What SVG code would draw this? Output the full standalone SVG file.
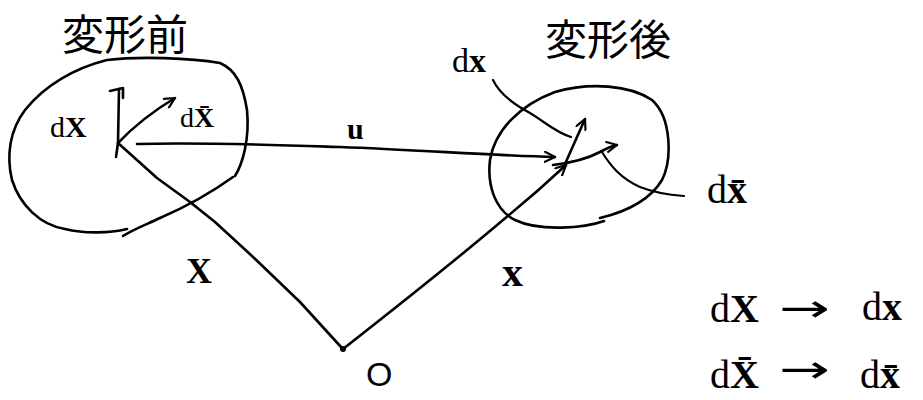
<svg xmlns="http://www.w3.org/2000/svg" width="923" height="400" viewBox="0 0 923 400">
<defs>
<marker id="ah" viewBox="0 0 12 12" refX="11" refY="6" markerWidth="12" markerHeight="12" markerUnits="userSpaceOnUse" orient="auto">
<path d="M1,1 L11,6 L1,11" fill="none" stroke="#000" stroke-width="2.2" stroke-linecap="round" stroke-linejoin="round"/>
</marker>
<style>
.ln{fill:none;stroke:#000;stroke-width:2.6;stroke-linecap:round;stroke-linejoin:round}
.thin{fill:none;stroke:#000;stroke-width:2.2;stroke-linecap:round}
.jp{font-family:"Noto Sans CJK JP","Noto Sans CJK SC",sans-serif;font-size:42px;fill:#000}
.m{font-family:"Liberation Serif","DejaVu Serif",serif;fill:#000}
.b{font-weight:bold}
.o{font-family:"Liberation Sans",sans-serif;fill:#000}
.arr{font-family:"DejaVu Sans",sans-serif;font-size:38px;fill:#000}
</style>
</defs>
<rect width="923" height="400" fill="#fff"/>

<g id="before">
<path class="ln" d="M235,176 C242,165 250,140 247,110 C243,85 236,70 220,63 C190,58 140,56 107,60 C75,68 45,85 25,110 C10,130 6,155 12,180 C20,205 40,225 65,229 C85,234 110,233 127,229"/>
<path class="ln" d="M233,177 C215,190 190,205 160,218 C145,225 132,230 123,236"/>
<text class="jp" x="62" y="50">変形前</text>
</g>

<g id="after">
<path class="ln" d="M604,221 C585,228 540,232 515,220 C495,210 487,185 490,160 C495,130 520,105 555,92 C590,82 630,85 652,100 C672,118 672,160 662,180 C650,200 625,212 600,218"/>
<text class="jp" x="545" y="55">変形後</text>
</g>

<g id="origin">
<circle cx="343" cy="349" r="3" fill="#000"/>
<text class="o" x="366" y="386" font-size="34">O</text>
</g>

<g id="connectors">
<path class="ln" d="M137,144 C200,142 280,145 340,147 C420,150 500,156 555,157" marker-end="url(#ah)"/>
<path class="ln" d="M118,143 L157,178 L190,202 L215,222 L252,256 L300,302 L341,347"/>
<path class="ln" d="M343,349 C380,320 450,265 503,220 C530,198 550,180 566,165" marker-end="url(#ah)"/>
<path class="ln" d="M116,157 L118,143 L119,89"/>
<path class="ln" d="M110,91 L123,88 L123,98"/>
<path class="ln" d="M118,143 C135,125 155,110 175,98" marker-end="url(#ah)"/>
<path class="ln" d="M565,164 L585,119" marker-end="url(#ah)"/>
<path class="ln" d="M553,165 C570,163 585,160 600,152 C607,148 612,146 617,145" marker-end="url(#ah)"/>
<path class="thin" d="M493,80 C500,95 515,105 530,113 C545,122 555,132 571,137"/>
<path class="thin" d="M602,152 C610,165 620,178 640,187 C655,193 670,195 684,196"/>
</g>

<g id="labels">
<text class="m" x="50" y="137" font-size="30">d<tspan class="b">X</tspan></text>
<text class="m" x="180" y="127" font-size="28">d<tspan class="b">X̄</tspan></text>
<text class="m b" x="347" y="139" font-size="30">u</text>
<text class="m b" x="186" y="283" font-size="36">X</text>
<text class="m b" x="502" y="286" font-size="42">x</text>
<text class="m" x="452" y="72" font-size="34">d<tspan class="b">x</tspan></text>
<text class="m" x="707" y="203" font-size="40">d<tspan class="b">x̄</tspan></text>
</g>

<g id="relations">
<text class="m" x="710" y="322" font-size="40">d<tspan class="b">X</tspan></text>
<text class="arr" transform="translate(779,321) scale(1.6,1)">→</text>
<text class="m" x="862" y="320" font-size="40">d<tspan class="b">x</tspan></text>
<text class="m" x="710" y="388" font-size="40">d<tspan class="b">X̄</tspan></text>
<text class="arr" transform="translate(779,382) scale(1.6,1)">→</text>
<text class="m" x="860" y="388" font-size="40">d<tspan class="b">x̄</tspan></text>
</g>
</svg>
